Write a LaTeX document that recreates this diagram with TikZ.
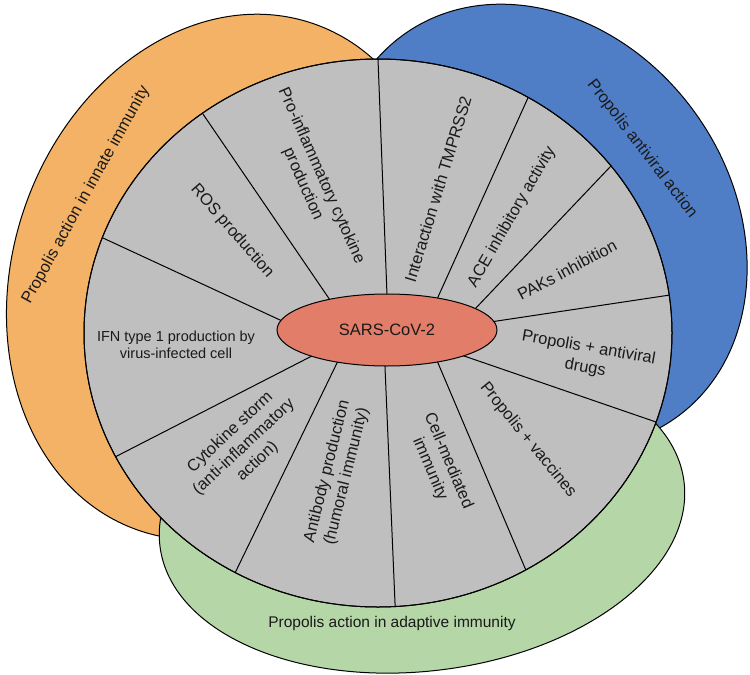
\documentclass[tikz,border=0pt]{standalone}
\usepackage{fontspec}
\setmainfont{Liberation Sans}
\usetikzlibrary{calc,shapes.geometric}
\definecolor{cOrange}{HTML}{F4B266}
\definecolor{cBlue}{HTML}{4F7EC6}
\definecolor{cGreen}{HTML}{B5D7A8}
\definecolor{cGray}{HTML}{BFBFBF}
\definecolor{cSalmon}{HTML}{E27D69}
\definecolor{cInk}{HTML}{1A1A1A}
\begin{document}
\begin{tikzpicture}[x=1pt,y=-1pt,
  band/.style={draw=black, line width=1pt},
  spokeline/.style={draw=black, line width=1pt},
  lbl/.style={text=cInk, align=center, font=\fontsize{16.5}{20}\selectfont, inner sep=0pt},
  smalllbl/.style={text=cInk, align=center, font=\fontsize{14.5}{17}\selectfont, inner sep=0pt},
  sarsnode/.style={ellipse, draw=black, line width=1pt, fill=cSalmon, minimum width=220pt, minimum height=72pt, inner sep=0pt, text=cInk, font=\fontsize{16.5}{20}\selectfont}]
\useasboundingbox (0,0) rectangle (750,675);

% coloured bands (ellipses behind the disc)
\path[band, fill=cOrange, rotate around={71:(226,277)}] (226,277) ellipse [x radius=268pt, y radius=213pt];
\path[band, fill=cBlue, rotate around={-55:(540,226)}] (540,226) ellipse [x radius=235pt, y radius=192pt];
\path[band, fill=cGreen, rotate around={7:(422,514)}] (422,514) ellipse [x radius=264pt, y radius=157pt];

% gray disc
\path[band, fill=cGray] (378,333) ellipse [x radius=294pt, y radius=274pt];

% spokes
\coordinate (o1) at (378,59);   \coordinate (m1) at (387,295);
\coordinate (o2) at (527,100);  \coordinate (m2) at (438,297);
\coordinate (o3) at (610,167);  \coordinate (m3) at (475,309);
\coordinate (o4) at (670,295);  \coordinate (m4) at (497,321);
\coordinate (o5) at (656,422);  \coordinate (m5) at (467,357);
\coordinate (o6) at (525,568);  \coordinate (m6) at (438,363);
\coordinate (o7) at (395,603);  \coordinate (m7) at (385,367);
\coordinate (o8) at (235,573);  \coordinate (m8) at (337,363);
\coordinate (o9) at (115,457);  \coordinate (m9) at (308,358);
\coordinate (o10) at (103,238); \coordinate (m10) at (280,320);
\coordinate (o11) at (205,117); \coordinate (m11) at (330,300);
\begin{scope}
  \clip (378,333) ellipse [x radius=294pt, y radius=274pt];
  \foreach \k in {1,...,11}{
    \coordinate (in\k) at ($(o\k)!1.1!(m\k)$);
    \coordinate (out\k) at ($(m\k)!1.1!(o\k)$);
    \draw[spokeline] (in\k) -- (out\k);
  }
\end{scope}
\path[band] (378,333) ellipse [x radius=294pt, y radius=274pt];

% centre
\node[sarsnode] (sars) at (387,330) {SARS-CoV-2};

% segment labels
\node[lbl, rotate=-66] (t1) at (312,180) {Pro-inflammatory cytokine\\production};
\node[lbl, rotate=73] (t2) at (438,189) {Interaction with TMPRSS2};
\node[lbl, rotate=60] (t3) at (512,217) {ACE inhibitory activity};
\node[lbl, rotate=28] (t4) at (567,270) {PAKs inhibition};
\node[lbl, rotate=-10] (t5) at (587,358) {Propolis + antiviral\\drugs};
\node[lbl, rotate=-51] (t6) at (528,440) {Propolis + vaccines};
\node[lbl, rotate=-67] (t7) at (439,465) {Cell-mediated\\immunity};
\node[lbl, rotate=76] (t8) at (337,474) {Antibody production\\(humoral immunity)};
\node[lbl, rotate=43] (t9) at (244,447) {Cytokine storm\\(anti-inflammatory\\action)};
\node[smalllbl] (t10) at (176,345) {IFN type 1 production by\\virus-infected cell};
\node[lbl, rotate=-49] (t11) at (232,231) {ROS production};

% band labels
\node[lbl, rotate=61] (la) at (86,195) {Propolis action in innate immunity};
\node[lbl, rotate=-52.5] (lb) at (642,149) {Propolis antiviral action};
\node[lbl, font=\fontsize{15.5}{19}\selectfont] (lc) at (392,623) {Propolis action in adaptive immunity};
\end{tikzpicture}
\end{document}
